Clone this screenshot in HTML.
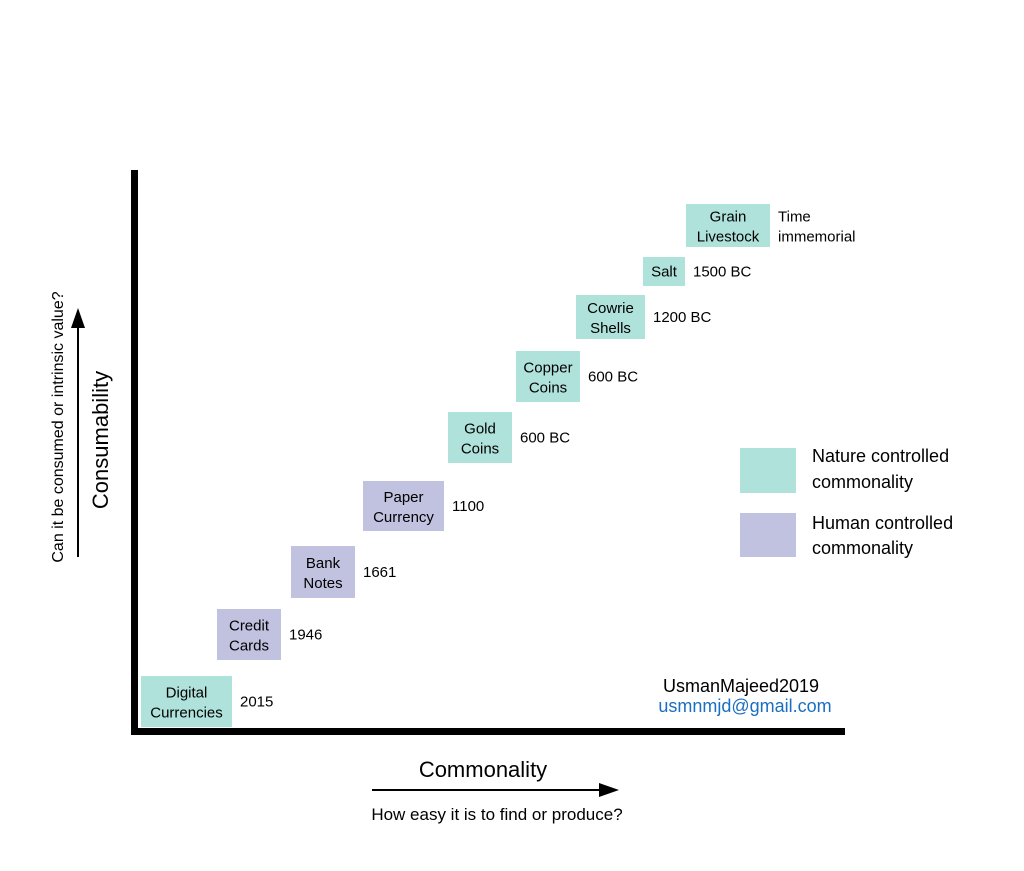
<!DOCTYPE html>
<html><head><meta charset="utf-8">
<style>
html,body{margin:0;padding:0;background:#fff;}
svg{display:block;font-family:"Liberation Sans",sans-serif;}
</style></head>
<body>
<svg id="chart" width="1024" height="871" viewBox="0 0 1024 871" xmlns="http://www.w3.org/2000/svg">
  <rect x="0" y="0" width="1024" height="871" fill="#fff"/>
  <rect x="131" y="170" width="7" height="565" fill="#000"/>
  <rect x="131" y="728" width="714" height="7" fill="#000"/>
  <g id="items"></g>
  <g>
    <line x1="78" y1="557" x2="78" y2="322" stroke="#000" stroke-width="2"/>
    <polygon points="78,308 71,328 85,328" fill="#000"/>
    <text transform="translate(108,440) rotate(-90)" text-anchor="middle" font-size="22">Consumability</text>
    <text transform="translate(63,427) rotate(-90)" text-anchor="middle" font-size="16">Can it be consumed or intrinsic value?</text>
  </g>
  <g>
    <text x="483" y="777" text-anchor="middle" font-size="22">Commonality</text>
    <line x1="372" y1="790" x2="604" y2="790" stroke="#000" stroke-width="2"/>
    <polygon points="619,790 599,783 599,797" fill="#000"/>
    <text x="497" y="820" text-anchor="middle" font-size="17">How easy it is to find or produce?</text>
  </g>
  <g>
    <rect x="740" y="448" width="56" height="45" fill="#b0e2dc"/>
    <text x="812" y="462" font-size="18">Nature controlled</text>
    <text x="812" y="488" font-size="18">commonality</text>
    <rect x="740" y="513" width="56" height="44" fill="#c0c2e0"/>
    <text x="812" y="529" font-size="18">Human controlled</text>
    <text x="812" y="554" font-size="18">commonality</text>
  </g>
  <text x="741" y="692" text-anchor="middle" font-size="18">UsmanMajeed2019</text>
  <text x="745" y="712" text-anchor="middle" font-size="18" fill="#1a6fc0">usmnmjd@gmail.com</text>
</svg>
<script>
const labels1 = ["Digital","Credit","Bank","Paper","Gold","Copper","Cowrie","Salt","Grain"];
const labels2 = ["Currencies","Cards","Notes","Currency","Coins","Coins","Shells","","Livestock"];
const years1 = ["2015","1946","1661","1100","600 BC","600 BC","1200 BC","1500 BC","Time"];
const years2 = ["","","","","","","","","immemorial"];
const kinds = ["nature","human","human","human","nature","nature","nature","nature","nature"];
const boxX = [141,217,291,363,448,516,576,643,686];
const boxY = [676,609,546,481,412,351,295,257,204];
const boxW = [91,64,64,81,64,64,69,42,84];
const boxH = [51,51,52,50,51,51,44,29,43];
const NS = "http://www.w3.org/2000/svg";
const g = document.getElementById("items");
const colors = {nature:"#b0e2dc", human:"#c0c2e0"};
function txt(x,y,s,anchor){
  const t=document.createElementNS(NS,"text");
  t.setAttribute("x",x);t.setAttribute("y",y);t.setAttribute("font-size","15");
  if(anchor)t.setAttribute("text-anchor",anchor);
  t.textContent=s;return t;
}
for(let i=0;i<labels1.length;i++){
  const grp=document.createElementNS(NS,"g");
  
  
  const r=document.createElementNS(NS,"rect");
  
  
  r.setAttribute("x",boxX[i]);r.setAttribute("y",boxY[i]);
  r.setAttribute("width",boxW[i]);r.setAttribute("height",boxH[i]);
  r.setAttribute("fill",colors[kinds[i]]);
  grp.appendChild(r);
  const cx=boxX[i]+boxW[i]/2, cy=boxY[i]+boxH[i]/2;
  let t1,t2=null;
  if(labels2[i]){
    t1=txt(cx,cy-4,labels1[i],"middle");
    t2=txt(cx,cy+16,labels2[i],"middle");
  } else {
    t1=txt(cx,cy+5,labels1[i],"middle");
  }
  
  
  grp.appendChild(t1);
  if(t2){
    
    
    grp.appendChild(t2);
  }
  const yx=boxX[i]+boxW[i]+8;
  let y1,y2=null;
  if(years2[i]){ y1=txt(yx,cy-4,years1[i]); y2=txt(yx,cy+16,years2[i]); }
  else y1=txt(yx,cy+5,years1[i]);
  
  
  grp.appendChild(y1);
  if(y2){
    
    
    grp.appendChild(y2);
  }
  g.appendChild(grp);
}
</script>
</body></html>
